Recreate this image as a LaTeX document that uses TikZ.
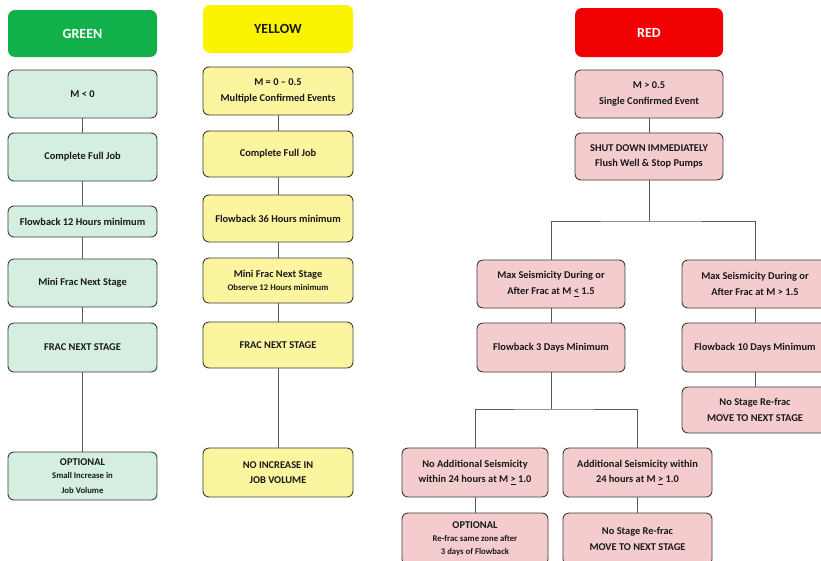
\documentclass[tikz,border=0pt]{standalone}
\usepackage{fontspec}
\setmainfont{Carlito}
\usepackage{tikz}

\definecolor{greenhead}{RGB}{18,176,75}
\definecolor{yellowhead}{RGB}{250,244,0}
\definecolor{redhead}{RGB}{240,0,0}
\definecolor{greenfill}{RGB}{212,238,224}
\definecolor{yellowfill}{RGB}{251,245,160}
\definecolor{redfill}{RGB}{244,204,206}
\definecolor{boxline}{RGB}{60,60,60}
\definecolor{linkgray}{RGB}{90,90,90}
\newcommand\smalltxt{\fontsize{8.7}{12}\selectfont}

\begin{document}
\begin{tikzpicture}[x=1pt,y=-1pt]
\tikzstyle{every node}=[font=\bfseries\fontsize{10.4}{15.5}\selectfont,align=center,text=black!90]
\tikzstyle{head}=[rounded corners=7pt,font=\bfseries\fontsize{14}{16}\selectfont]
\tikzstyle{box}=[draw=boxline,line width=0.9pt,rounded corners=6pt]
\tikzstyle{greenbox}=[box,fill=greenfill,minimum width=149pt,minimum height=48pt]
\tikzstyle{yellowbox}=[box,fill=yellowfill,minimum width=150pt,minimum height=46pt]
\tikzstyle{redbox}=[box,fill=redfill,minimum width=148pt,minimum height=48pt]
\tikzstyle{link}=[draw=linkgray,line width=0.8pt]
\useasboundingbox (0,0) rectangle (821,560);

% green column
\node[head,fill=greenhead,text=white,minimum width=149pt,minimum height=47pt] (ghead) at (82.5,33.5) {GREEN};
\node[greenbox] (g1) at (82.5,94) {M < 0};
\node[greenbox] (g2) at (82.5,157) {Complete Full Job};
\node[greenbox,minimum height=31pt] (g3) at (82.5,221.5) {Flowback 12 Hours minimum};
\node[greenbox] (g4) at (82.5,283) {Mini Frac Next Stage};
\node[greenbox,minimum height=49pt] (g5) at (82.5,347.5) {FRAC NEXT STAGE};
\node[greenbox] (g6) at (82.5,476) {OPTIONAL\\[-2pt]{\smalltxt Small Increase in}\\[-1pt]{\smalltxt Job Volume}};

% yellow column
\node[head,fill=yellowhead,minimum width=150pt,minimum height=48pt] (yhead) at (278,29) {YELLOW};
\node[yellowbox,minimum height=48pt] (y1) at (278,91) {M = 0 -- 0.5\\Multiple Confirmed Events};
\node[yellowbox] (y2) at (278,154) {Complete Full Job};
\node[yellowbox,minimum height=47pt] (y3) at (278,218.5) {Flowback 36 Hours minimum};
\node[yellowbox,minimum height=45pt] (y4) at (278,280.5) {Mini Frac Next Stage\\[-3pt]{\smalltxt Observe 12 Hours minimum}};
\node[yellowbox] (y5) at (278,345) {FRAC NEXT STAGE};
\node[yellowbox,minimum height=49pt] (y6) at (278,472.5) {NO INCREASE IN\\JOB VOLUME};

% red column
\node[head,fill=redhead,text=white,minimum width=148pt,minimum height=49pt] (rhead) at (649,32.5) {RED};
\node[redbox] (r1) at (649,94) {M > 0.5\\Single Confirmed Event};
\node[redbox,minimum height=47pt] (r2) at (649,156.5) {SHUT DOWN IMMEDIATELY\\Flush Well \& Stop Pumps};
\node[redbox] (r3) at (551,284) {Max Seismicity During or\\After Frac at M \underline{<} 1.5};
\node[redbox,minimum width=146pt] (r4) at (755,284) {Max Seismicity During or\\After Frac at M > 1.5};
\node[redbox,minimum height=49pt] (r5) at (551,347.5) {Flowback 3 Days Minimum};
\node[redbox,minimum width=146pt,minimum height=49pt] (r6) at (755,347.5) {Flowback 10 Days Minimum};
\node[redbox,minimum width=146pt,minimum height=46pt] (r7) at (755,410) {No Stage Re-frac\\MOVE TO NEXT STAGE};
\node[redbox,minimum width=146pt,minimum height=49pt] (r8) at (475,472.5) {No Additional Seismicity\\within 24 hours at M \underline{>} 1.0};
\node[redbox,minimum width=149pt,minimum height=49pt] (r9) at (637.5,472.5) {Additional Seismicity within\\24 hours at M \underline{>} 1.0};
\node[redbox,minimum width=146pt,minimum height=52pt] (r10) at (475,539) {OPTIONAL\\[-3pt]{\smalltxt Re-frac same zone after}\\[-2pt]{\smalltxt 3 days of Flowback}};
\node[redbox,minimum width=149pt,minimum height=52pt] (r11) at (637.5,539) {No Stage Re-frac\\MOVE TO NEXT STAGE};

% connectors
\foreach \a/\b in {g1/g2,g2/g3,g3/g4,g4/g5,g5/g6,y1/y2,y2/y3,y3/y4,y4/y5,y5/y6,r1/r2,r3/r5,r4/r6,r6/r7,r8/r10,r9/r11}
  \draw[link] (\a) -- (\b);
\coordinate (rsplit) at (649,221);
\draw[link] (r2) -- (rsplit);
\draw[link] (r3) |- (rsplit) -| (r4);
\coordinate (lsplit) at (551,409);
\draw[link] (r5) -- (lsplit);
\draw[link] (r8) |- (lsplit) -| (r9);
\end{tikzpicture}
\end{document}
